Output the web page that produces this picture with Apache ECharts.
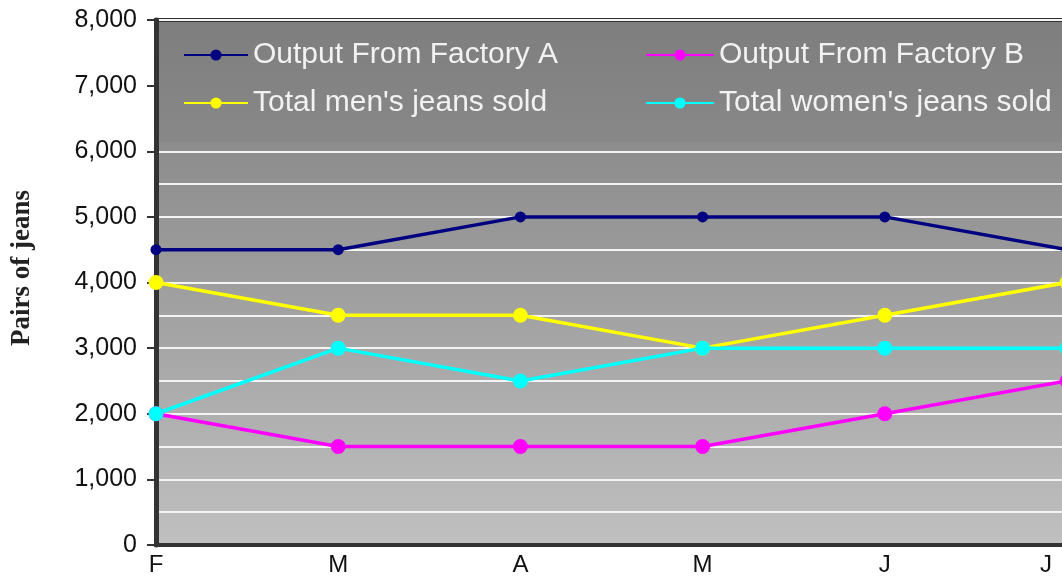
<!DOCTYPE html>
<html>
<head>
<meta charset="utf-8">
<script src="https://cdn.jsdelivr.net/npm/echarts@6/dist/echarts.min.js"></script>
<style>html,body{margin:0;padding:0;background:#fff}#c{width:1062px;height:580px}</style>
</head>
<body>
<div id="c"></div>
<script>
var categories = ['F', 'M', 'A', 'M', 'J', 'J'];
var factoryA = [4500, 4500, 5000, 5000, 5000, 4500];
var factoryB = [2000, 1500, 1500, 1500, 2000, 2500];
var mensSold = [4000, 3500, 3500, 3000, 3500, 4000];
var womensSold = [2000, 3000, 2500, 3000, 3000, 3000];
var seriesNames = ['Output From Factory A', 'Output From Factory B', "Total men's jeans sold", "Total women's jeans sold"];
var yTicks = { min: 0, max: 8000, interval: 1000 };
var yTitle = 'Pairs of jeans';

var chart = echarts.init(document.getElementById('c'));
var legendText = { color: '#f2f2f2', fontSize: 30, fontFamily: 'Liberation Sans, Arial, sans-serif' };
var xLabelStyle = { color: '#111', fontSize: 24, fontFamily: 'Liberation Sans, Arial, sans-serif' };
chart.setOption({
  animation: false,
  backgroundColor: '#ffffff',
  grid: {
    left: 156, top: 20, width: 911, bottom: 35,
    outerBoundsMode: 'none', containLabel: false,
    show: true,
    backgroundColor: { type: 'linear', x: 0, y: 0, x2: 0, y2: 1,
      colorStops: [{ offset: 0, color: '#7c7c7c' }, { offset: 1, color: '#c0c0c0' }] },
    borderColor: '#333333', borderWidth: 4
  },
  graphic: [{
    type: 'rect', z: 1, silent: true,
    shape: { x: 159, y: 22, width: 903, height: 120 },
    style: { fill: { type: 'linear', x: 0, y: 0, x2: 0, y2: 1,
      colorStops: [{ offset: 0, color: '#7e7e7e' }, { offset: 1, color: '#888888' }] } }
  }, {
    type: 'text', z: 5, silent: true,
    x: 22, y: 268, rotation: Math.PI / 2,
    style: { text: yTitle, fill: '#222', font: 'bold 27px "Liberation Serif", "Times New Roman", serif',
      textAlign: 'center', textVerticalAlign: 'middle' }
  }],
  legend: [{
    data: [seriesNames[0], seriesNames[2]],
    orient: 'vertical', left: 178, top: 35, itemGap: 18,
    itemWidth: 64, itemHeight: 14, textStyle: legendText, z: 5
  }, {
    data: [seriesNames[1], seriesNames[3]],
    orient: 'vertical', left: 640, top: 35, itemGap: 18,
    itemWidth: 68, itemHeight: 14, textStyle: legendText, z: 5
  }],
  xAxis: {
    type: 'category', data: categories, boundaryGap: false,
    axisLine: { show: true, lineStyle: { color: '#333333', width: 4 } },
    axisTick: { show: false },
    axisLabel: Object.assign({ margin: 8, interval: 0,
      formatter: function (v, i) { return i === categories.length - 1 ? '{last|' + v + '}' : v; },
      rich: { last: Object.assign({ padding: [0, 42, 0, 0] }, xLabelStyle) } }, xLabelStyle),
    splitLine: { show: false }
  },
  yAxis: {
    type: 'value', min: yTicks.min, max: yTicks.max, interval: yTicks.interval,
    axisLine: { show: true, lineStyle: { color: '#333333', width: 5 } },
    axisTick: { show: true, length: 9, lineStyle: { color: '#333', width: 2 } },
    axisLabel: { color: '#111', fontSize: 25, fontFamily: 'Liberation Sans, Arial, sans-serif', margin: 19,
      formatter: function (v) { return v.toLocaleString('en-US'); } },
    splitLine: { show: true, lineStyle: { color: '#f4f4f4', width: 2 } },
    minorTick: { show: false, splitNumber: 2 },
    minorSplitLine: { show: true, lineStyle: { color: '#f4f4f4', width: 2 } }
  },
  series: [{
    name: seriesNames[0], type: 'line', data: factoryA, z: 4,
    symbol: 'circle', symbolSize: 11, clip: false,
    lineStyle: { color: '#000080', width: 3.5 }, itemStyle: { color: '#000080' }
  }, {
    name: seriesNames[1], type: 'line', data: factoryB, z: 3,
    symbol: 'circle', symbolSize: 15, clip: false,
    lineStyle: { color: '#ff00ff', width: 3.5 }, itemStyle: { color: '#ff00ff' }
  }, {
    name: seriesNames[2], type: 'line', data: mensSold, z: 3,
    symbol: 'circle', symbolSize: 15, clip: false,
    lineStyle: { color: '#ffff00', width: 3.5 }, itemStyle: { color: '#ffff00' }
  }, {
    name: seriesNames[3], type: 'line', data: womensSold, z: 3,
    symbol: 'circle', symbolSize: 15, clip: false,
    lineStyle: { color: '#00ffff', width: 3.5 }, itemStyle: { color: '#00ffff' }
  }]
});
</script>
</body>
</html>
